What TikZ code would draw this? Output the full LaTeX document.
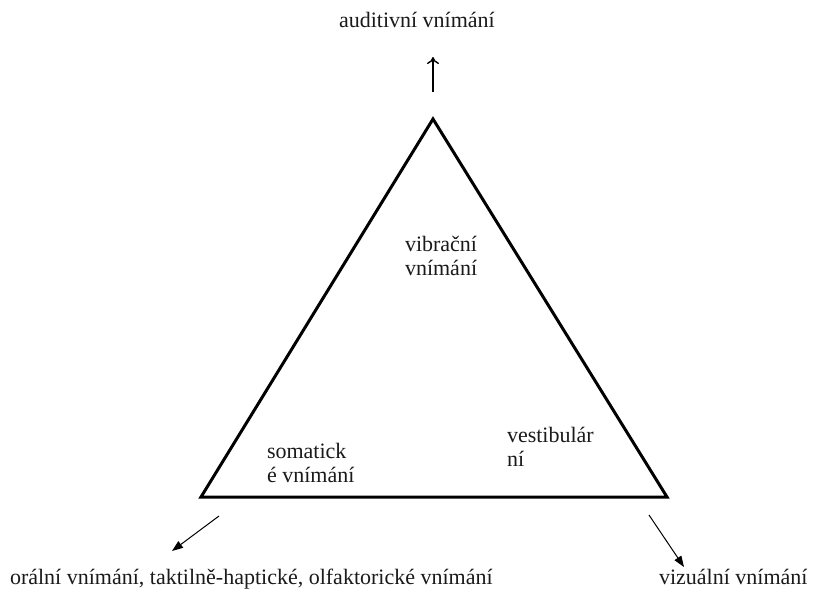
\documentclass[tikz,border=0pt]{standalone}
\usepackage{fontspec}
\setmainfont{Liberation Serif}
\usetikzlibrary{arrows.meta}
\definecolor{txt}{HTML}{1A1A1A}
\tikzset{
  lbl/.style={inner sep=0pt, outer sep=0pt, text=txt, font=\fontsize{22}{23.5}\selectfont, align=left},
  tri/.style={line width=3pt, line join=miter, black},
  uparrow/.style={line width=1.4pt, -{To[length=7pt,width=12pt,line width=1.4pt]}},
  dnarrow/.style={line width=1pt, -{Triangle[length=11pt,width=8pt]}}
}
\begin{document}
\begin{tikzpicture}[x=1pt,y=-1pt]
\useasboundingbox[fill=white] (0,0) rectangle (819,592);
\coordinate (A) at (433,119);
\coordinate (B) at (201,497);
\coordinate (C) at (667,497);
\draw[tri] (A) -- (C) -- (B) -- cycle;

\node[lbl, anchor=base west] (aud) at (339,27) {auditivní vnímání};
\node[lbl, anchor=base west] (vib) at (405,275) {vibrační\\vnímání};
\node[lbl, anchor=base west] (som) at (267,482) {somatick\\é vnímání};
\node[lbl, anchor=base west] (ves) at (507,466) {vestibulár\\ní};
\node[lbl, anchor=base west] (ora) at (10,584) {orální vnímání, taktilně-haptické, olfaktorické vnímání};
\node[lbl, anchor=base west] (viz) at (659,584) {vizuální vnímání};

\coordinate (t1) at (433,92);
\coordinate (t2) at (433,57);
\draw[uparrow] (t1) -- (t2);
\coordinate (l1) at (219,516);
\coordinate (l2) at (172,551);
\draw[dnarrow] (l1) -- (l2);
\coordinate (r1) at (649,515);
\coordinate (r2) at (684,567);
\draw[dnarrow] (r1) -- (r2);
\end{tikzpicture}
\end{document}
